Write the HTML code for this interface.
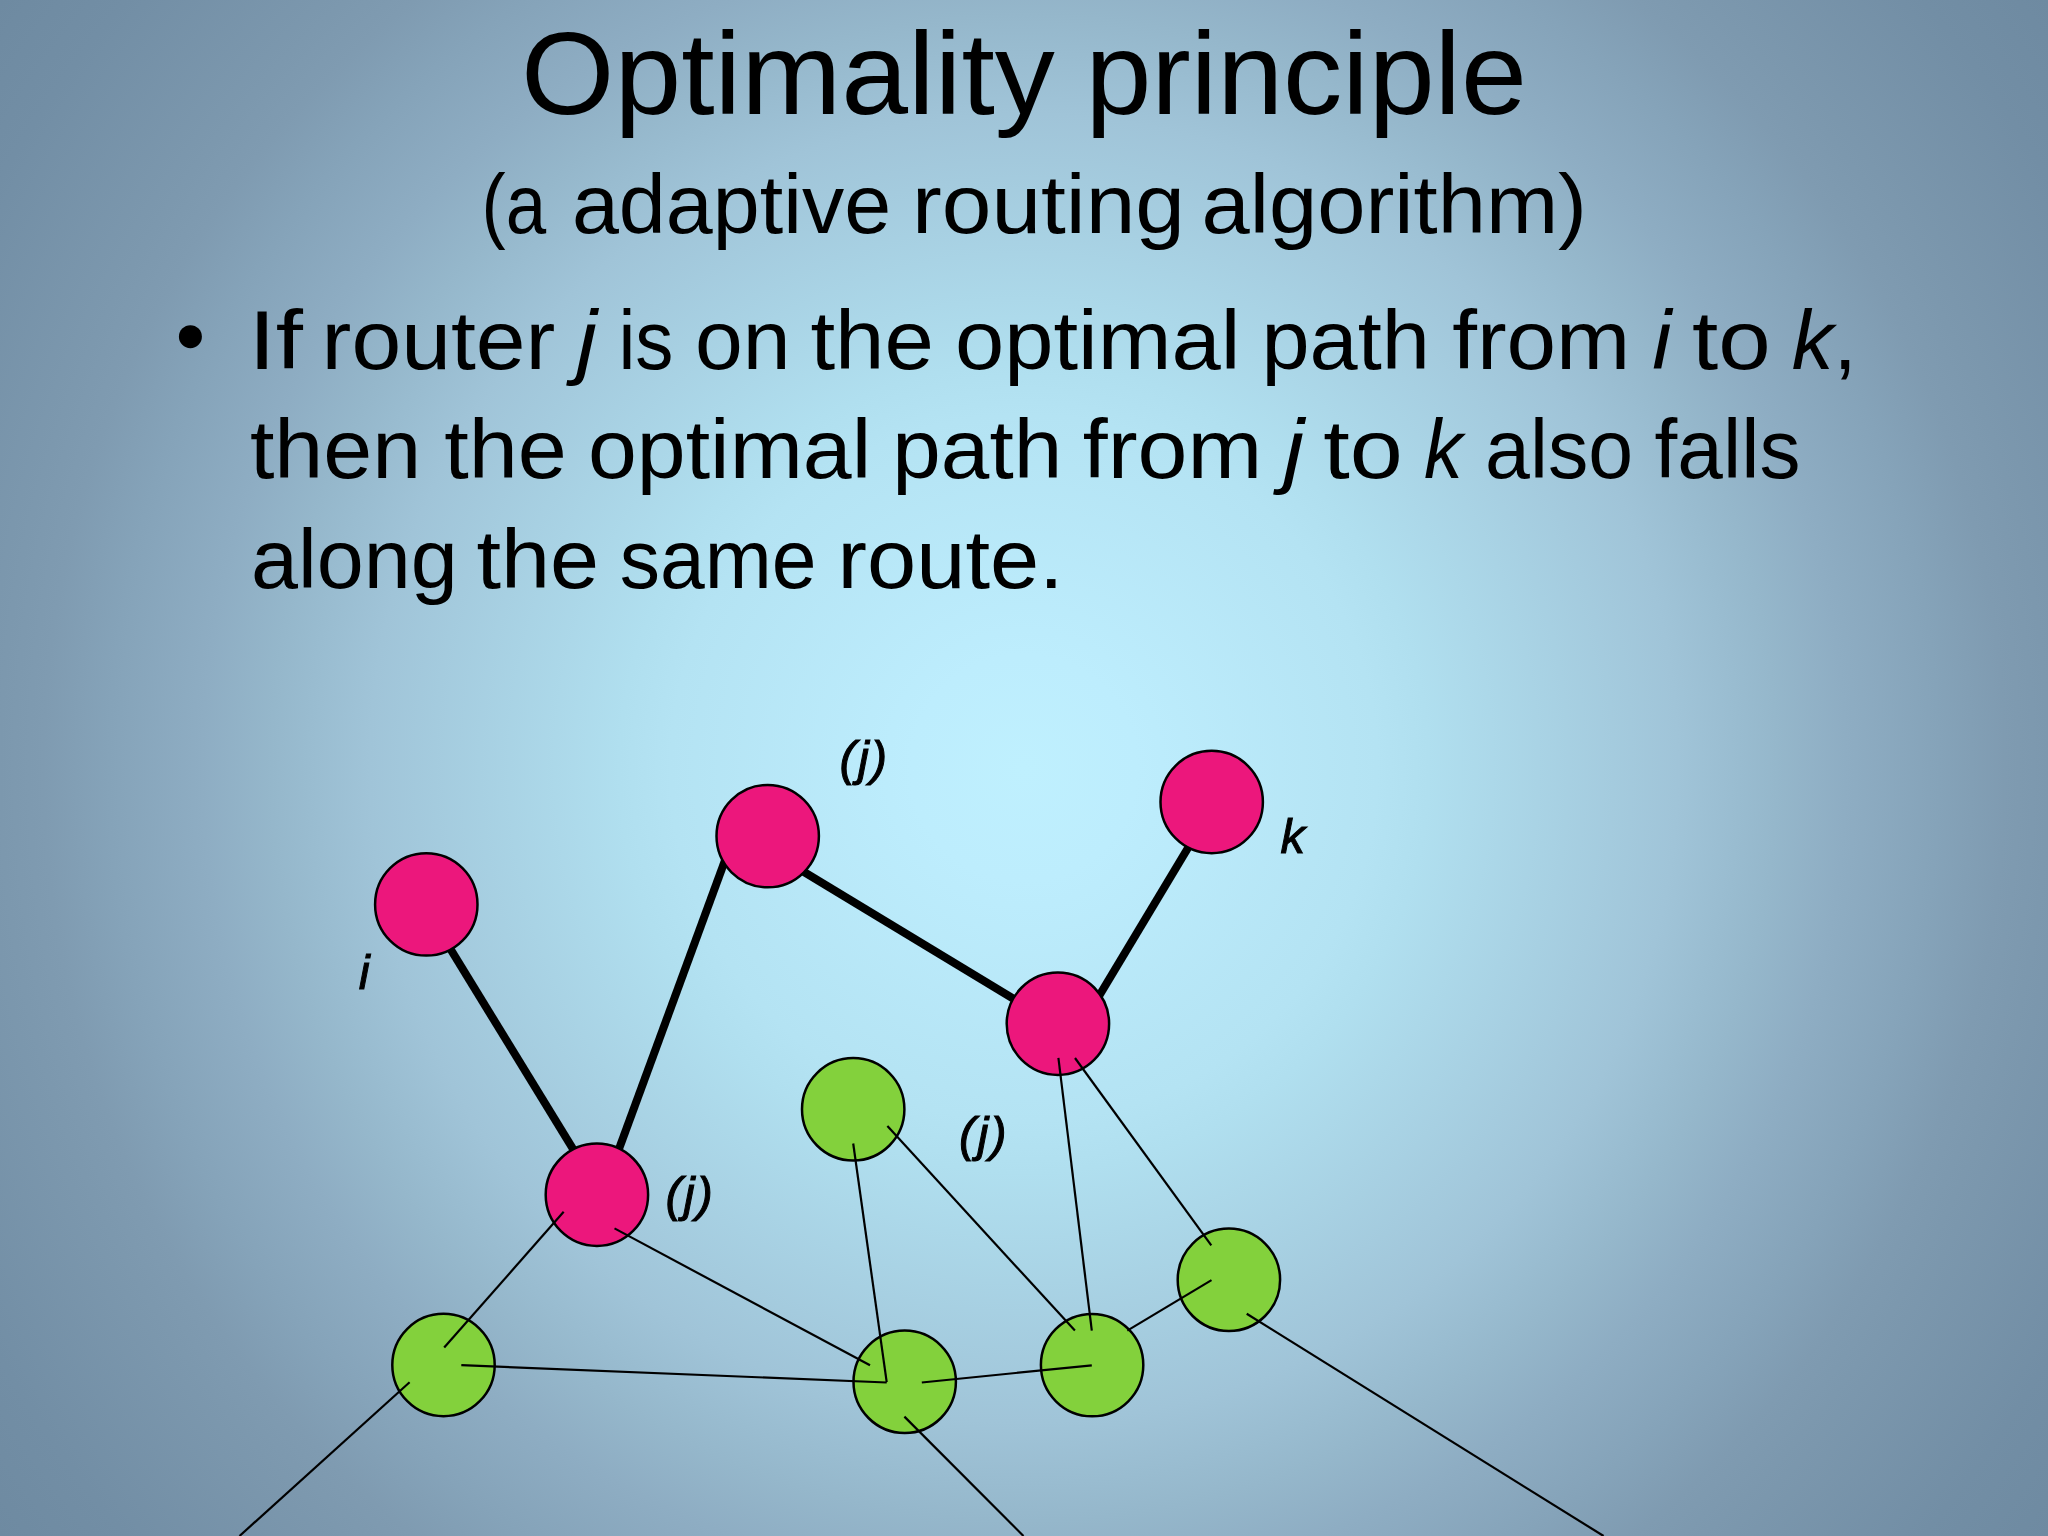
<!DOCTYPE html>
<html><head><meta charset="utf-8">
<style>
html,body{margin:0;padding:0;width:2048px;height:1536px;overflow:hidden;background:#8eadc3;}
svg{display:block;}
text{font-family:"Liberation Sans",sans-serif;fill:#000;}
</style></head>
<body>
<svg width="2048" height="1536" viewBox="0 0 2048 1536">
<defs>
<radialGradient id="bg" gradientUnits="userSpaceOnUse" cx="1024" cy="768" r="1280">
<stop offset="0.000" stop-color="#bff0fe"/>
<stop offset="0.088" stop-color="#bdedfd"/>
<stop offset="0.276" stop-color="#b4e3f3"/>
<stop offset="0.316" stop-color="#b0dfef"/>
<stop offset="0.511" stop-color="#a0c4d8"/>
<stop offset="0.559" stop-color="#99bcd0"/>
<stop offset="0.588" stop-color="#95b7cb"/>
<stop offset="0.642" stop-color="#8eadc3"/>
<stop offset="0.715" stop-color="#85a3b9"/>
<stop offset="0.766" stop-color="#7f9bb1"/>
<stop offset="0.800" stop-color="#7c98ae"/>
<stop offset="0.923" stop-color="#728ea5"/>
<stop offset="1.000" stop-color="#6e8aa1"/>
</radialGradient>
</defs>
<rect width="2048" height="1536" fill="url(#bg)"/>
<!-- title, subtitle, bullet text -->
<text x="521.0" y="114.0" font-size="116" textLength="533.9" lengthAdjust="spacingAndGlyphs">Optimality</text>
<text x="1085.4" y="114.0" font-size="116" textLength="441.5" lengthAdjust="spacingAndGlyphs">principle</text>
<text x="481.6" y="232.8" font-size="84" textLength="64.6" lengthAdjust="spacingAndGlyphs">(a</text>
<text x="571.9" y="232.8" font-size="84" textLength="319.2" lengthAdjust="spacingAndGlyphs">adaptive</text>
<text x="912.0" y="232.8" font-size="84" textLength="273.0" lengthAdjust="spacingAndGlyphs">routing</text>
<text x="1201.5" y="232.8" font-size="84" textLength="385.5" lengthAdjust="spacingAndGlyphs">algorithm)</text>
<text x="248.6" y="368.5" font-size="84" textLength="54.4" lengthAdjust="spacingAndGlyphs">If</text>
<text x="321.6" y="368.5" font-size="84" textLength="233.7" lengthAdjust="spacingAndGlyphs">router</text>
<text x="576.6" y="368.5" font-size="84" textLength="20.5" lengthAdjust="spacingAndGlyphs"><tspan font-style="italic">j</tspan></text>
<text x="618.4" y="368.5" font-size="84" textLength="55.0" lengthAdjust="spacingAndGlyphs">is</text>
<text x="694.9" y="368.5" font-size="84" textLength="95.5" lengthAdjust="spacingAndGlyphs">on</text>
<text x="810.4" y="368.5" font-size="84" textLength="123.5" lengthAdjust="spacingAndGlyphs">the</text>
<text x="955.1" y="368.5" font-size="84" textLength="285.3" lengthAdjust="spacingAndGlyphs">optimal</text>
<text x="1261.5" y="368.5" font-size="84" textLength="168.4" lengthAdjust="spacingAndGlyphs">path</text>
<text x="1452.2" y="368.5" font-size="84" textLength="178.1" lengthAdjust="spacingAndGlyphs">from</text>
<text x="1652.3" y="368.5" font-size="84" textLength="19.2" lengthAdjust="spacingAndGlyphs"><tspan font-style="italic">i</tspan></text>
<text x="1692.0" y="368.5" font-size="84" textLength="78.7" lengthAdjust="spacingAndGlyphs">to</text>
<text x="1791.8" y="368.5" font-size="84" textLength="65.0" lengthAdjust="spacingAndGlyphs"><tspan font-style="italic">k</tspan>,</text>
<text x="249.9" y="478.0" font-size="84" textLength="171.3" lengthAdjust="spacingAndGlyphs">then</text>
<text x="444.2" y="478.0" font-size="84" textLength="122.6" lengthAdjust="spacingAndGlyphs">the</text>
<text x="588.0" y="478.0" font-size="84" textLength="283.2" lengthAdjust="spacingAndGlyphs">optimal</text>
<text x="892.3" y="478.0" font-size="84" textLength="169.9" lengthAdjust="spacingAndGlyphs">path</text>
<text x="1082.8" y="478.0" font-size="84" textLength="179.5" lengthAdjust="spacingAndGlyphs">from</text>
<text x="1283.5" y="478.0" font-size="84" textLength="20.6" lengthAdjust="spacingAndGlyphs"><tspan font-style="italic">j</tspan></text>
<text x="1323.2" y="478.0" font-size="84" textLength="79.6" lengthAdjust="spacingAndGlyphs">to</text>
<text x="1424.0" y="478.0" font-size="84" textLength="38.7" lengthAdjust="spacingAndGlyphs"><tspan font-style="italic">k</tspan></text>
<text x="1485.1" y="478.0" font-size="84" textLength="148.0" lengthAdjust="spacingAndGlyphs">also</text>
<text x="1654.6" y="478.0" font-size="84" textLength="145.8" lengthAdjust="spacingAndGlyphs">falls</text>
<text x="251.0" y="587.7" font-size="84" textLength="206.8" lengthAdjust="spacingAndGlyphs">along</text>
<text x="476.4" y="587.7" font-size="84" textLength="122.6" lengthAdjust="spacingAndGlyphs">the</text>
<text x="619.7" y="587.7" font-size="84" textLength="196.7" lengthAdjust="spacingAndGlyphs">same</text>
<text x="837.6" y="587.7" font-size="84" textLength="226.1" lengthAdjust="spacingAndGlyphs">route.</text>
<circle cx="190.4" cy="336.7" r="11.5" fill="#000"/>
<!-- thick lines -->
<g stroke="#000" stroke-width="8" stroke-linecap="butt">
<line x1="423.1" y1="904.4" x2="601.0" y2="1194.7"/>
<line x1="602.2" y1="1194.7" x2="733.9" y2="836.1"/>
<line x1="767.7" y1="850.0" x2="1057.9" y2="1025.6"/>
<line x1="1082.4" y1="1023.7" x2="1215.6" y2="802"/>
</g>
<!-- nodes -->
<g stroke="#000" stroke-width="2.5">
<circle cx="426.3" cy="904.4" r="51.2" fill="#ec177c"/>
<circle cx="767.7" cy="836.1" r="51.2" fill="#ec177c"/>
<circle cx="1211.7" cy="802" r="51.2" fill="#ec177c"/>
<circle cx="1057.9" cy="1023.7" r="51.2" fill="#ec177c"/>
<circle cx="596.9" cy="1194.7" r="51.2" fill="#ec177c"/>
<circle cx="853.2" cy="1109.3" r="51.2" fill="#83d13c"/>
<circle cx="1228.9" cy="1279.8" r="51.2" fill="#83d13c"/>
<circle cx="443.5" cy="1365" r="51.2" fill="#83d13c"/>
<circle cx="904.7" cy="1381.8" r="51.2" fill="#83d13c"/>
<circle cx="1092.1" cy="1365.1" r="51.2" fill="#83d13c"/>
</g>
<!-- thin lines -->
<g stroke="#000" stroke-width="2.2">
<line x1="563.7" y1="1211.8" x2="444.2" y2="1347.6"/>
<line x1="614.5" y1="1228.4" x2="870" y2="1365.3"/>
<line x1="461.3" y1="1365.2" x2="886.7" y2="1382.5"/>
<line x1="409.6" y1="1382.3" x2="239.5" y2="1536"/>
<line x1="853.2" y1="1143.5" x2="886.7" y2="1382.2"/>
<line x1="887.4" y1="1126" x2="1074.9" y2="1330.6"/>
<line x1="921.8" y1="1382.5" x2="1091.8" y2="1365.3"/>
<line x1="904.4" y1="1416.6" x2="1023.5" y2="1536"/>
<line x1="1058.4" y1="1057.9" x2="1091.8" y2="1330.6"/>
<line x1="1075" y1="1058" x2="1211.3" y2="1245.4"/>
<line x1="1127.3" y1="1330.6" x2="1211.5" y2="1280.1"/>
<line x1="1246.7" y1="1313.8" x2="1603.6" y2="1536"/>
</g>
<!-- labels -->
<g font-size="49" font-style="italic" stroke="#000" stroke-width="1">
<text x="839.6" y="774.8" letter-spacing="2">(j)</text>
<text x="1280.5" y="852.6">k</text>
<text x="358.7" y="989">i</text>
<text x="665.4" y="1211" letter-spacing="2">(j)</text>
<text x="959.1" y="1151" letter-spacing="2">(j)</text>
</g>
</svg>
</body></html>
